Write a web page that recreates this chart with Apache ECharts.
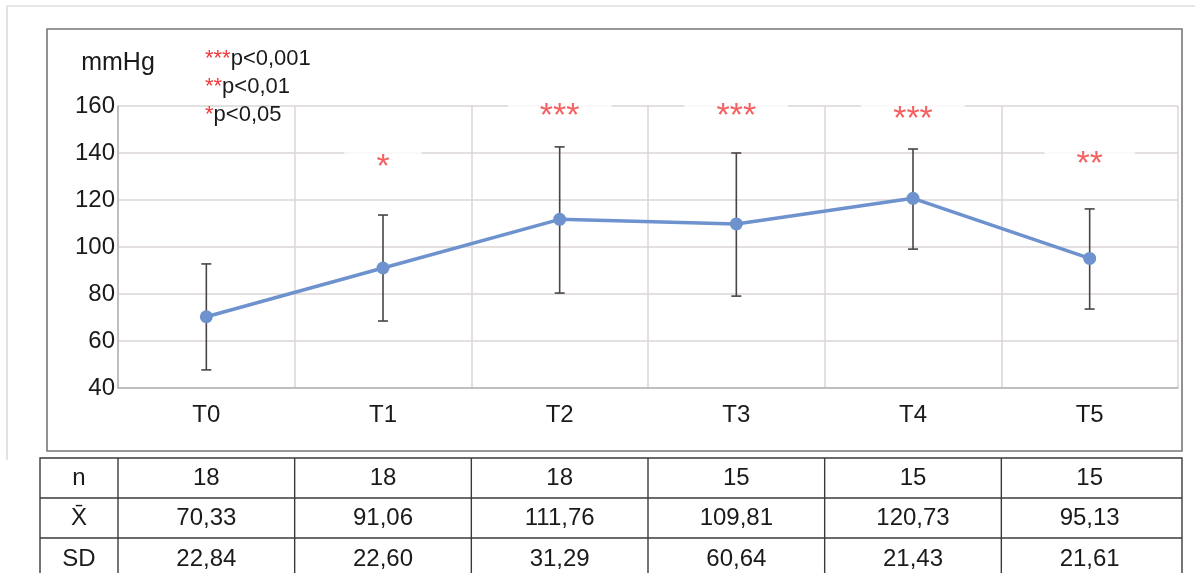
<!DOCTYPE html>
<html>
<head>
<meta charset="utf-8">
<script src="https://cdn.jsdelivr.net/npm/echarts@6/dist/echarts.min.js"></script>
<style>
html,body{margin:0;padding:0;background:#fff;}
#c{width:1195px;height:573px;}
</style>
</head>
<body>
<div id="c"></div>
<script>
// ---- data ----
const categories = ['T0', 'T1', 'T2', 'T3', 'T4', 'T5'];
const means = [70.33, 91.06, 111.76, 109.81, 120.73, 95.13];
const barHigh = [92.8, 113.6, 142.6, 140.0, 141.7, 116.2];
const barLow = [47.7, 68.5, 80.4, 79.1, 99.1, 73.6];
const starLabels = ['', '*', '***', '***', '***', '**'];
const starLevel = [null, 136.6, 158.3, 158.3, 157.0, 137.9];
const yTicks = { min: 40, max: 160, interval: 20 };
const tableRowLabels = ['n', 'X\u0304', 'SD'];
const tableN = ['18', '18', '18', '15', '15', '15'];
const tableMean = ['70,33', '91,06', '111,76', '109,81', '120,73', '95,13'];
const tableSD = ['22,84', '22,60', '31,29', '60,64', '21,43', '21,61'];
const legendItems = [['***', 'p<0,001'], ['**', 'p<0,01'], ['*', 'p<0,05']];

const FONT = 'Liberation Sans, Arial, sans-serif';
const chart = echarts.init(document.getElementById('c'), null, { renderer: 'canvas' });

const errData = categories.map((c, i) => [i, barHigh[i], barLow[i]]);
const starData = categories.map((c, i) => starLevel[i] == null ? null : { value: [i, starLevel[i]], label: { formatter: starLabels[i] } }).filter(Boolean);

const option = {
  animation: false,
  backgroundColor: '#fff',
  grid: { left: 118, top: 106, width: 1060, height: 282, containLabel: false },
  xAxis: {
    type: 'category', data: categories, boundaryGap: true,
    axisLine: { show: true, lineStyle: { color: '#b8b2b2', width: 1.5 } },
    axisTick: { show: false },
    axisLabel: { color: '#1a1a1a', fontSize: 24, fontFamily: FONT, margin: 15 },
    splitLine: { show: true, lineStyle: { color: '#ddd6d6', width: 1.5 } }
  },
  yAxis: {
    type: 'value', min: yTicks.min, max: yTicks.max, interval: yTicks.interval,
    name: 'mmHg', nameLocation: 'end', nameGap: 30,
    nameTextStyle: { color: '#1a1a1a', fontSize: 25, fontFamily: FONT, align: 'center' },
    axisLine: { show: true, lineStyle: { color: '#b8b2b2', width: 1.5 } },
    axisTick: { show: false },
    axisLabel: { color: '#1a1a1a', fontSize: 24, fontFamily: FONT, margin: 3 },
    splitLine: { show: true, lineStyle: { color: '#ddd6d6', width: 1.5 } }
  },
  series: [
    {
      type: 'scatter', data: starData, symbolSize: 1, itemStyle: { color: 'rgba(0,0,0,0)' }, z: 3,
      label: {
        show: true, position: 'inside', color: '#f03a3a', fontSize: 34, fontFamily: FONT,
        backgroundColor: '#fff', padding: [0, 32], height: 34, lineHeight: 34, offset: [0, 7]
      },
      silent: true
    },
    {
      type: 'custom', data: errData, z: 4,
      renderItem: function (params, api) {
        const hi = api.coord([api.value(0), api.value(1)]);
        const lo = api.coord([api.value(0), api.value(2)]);
        const cap = 5;
        const st = { stroke: '#4a4444', lineWidth: 1.6 };
        return {
          type: 'group', children: [
            { type: 'line', shape: { x1: hi[0], y1: hi[1], x2: lo[0], y2: lo[1] }, style: st },
            { type: 'line', shape: { x1: hi[0] - cap, y1: hi[1], x2: hi[0] + cap, y2: hi[1] }, style: st },
            { type: 'line', shape: { x1: lo[0] - cap, y1: lo[1], x2: lo[0] + cap, y2: lo[1] }, style: st }
          ]
        };
      }
    },
    {
      type: 'line', data: means, z: 5,
      symbol: 'circle', symbolSize: 13,
      lineStyle: { color: '#6d92cd', width: 3.5 },
      itemStyle: { color: '#6d92cd' }
    }
  ]
};
chart.setOption(option);

// ---- table & frames (column positions derived from the category axis) ----
const centers = categories.map(c => chart.convertToPixel({ xAxisIndex: 0 }, c));
const band = centers[1] - centers[0];
const colEdges = [40].concat(categories.map((c, i) => centers[i] - band / 2)).concat([centers[centers.length - 1] + band / 2 + 4]);
const tableTop = 458, rowLines = [498, 538], rowText = [478, 518, 559];
const rowsData = [tableN, tableMean, tableSD];
const tRight = colEdges[colEdges.length - 1];
const g = [];
// outer thin frame (top and left)
g.push({ type: 'polyline', shape: { points: [[7, 460], [7, 6], [1195, 6]] }, style: { fill: 'none', stroke: '#cfcfcf', lineWidth: 1.2 }, z: 0 });
g.push({ type: 'rect', shape: { x: 47, y: 29, width: 1135, height: 422 }, style: { fill: 'none', stroke: '#7a7676', lineWidth: 1.6 }, z: 1 });
g.push({ type: 'rect', shape: { x: 40, y: tableTop, width: tRight - 40, height: 140 }, style: { fill: '#fff', stroke: '#3a3a3a', lineWidth: 1.4 }, z: 2 });
rowLines.forEach(y => g.push({ type: 'line', shape: { x1: 40, y1: y, x2: tRight, y2: y }, style: { stroke: '#3a3a3a', lineWidth: 1.4 }, z: 3 }));
for (let c = 1; c < colEdges.length - 1; c++) {
  g.push({ type: 'line', shape: { x1: colEdges[c], y1: tableTop, x2: colEdges[c], y2: 600 }, style: { stroke: '#3a3a3a', lineWidth: 1.4 }, z: 3 });
}
tableRowLabels.forEach((lab, r) => {
  g.push({ type: 'text', x: (colEdges[0] + colEdges[1]) / 2, y: rowText[r], style: { text: lab, fill: '#1a1a1a', font: '24px ' + FONT, align: 'center', verticalAlign: 'middle' }, z: 4 });
  rowsData[r].forEach((v, i) => {
    g.push({ type: 'text', x: centers[i], y: rowText[r], style: { text: v, fill: '#1a1a1a', font: '24px ' + FONT, align: 'center', verticalAlign: 'middle' }, z: 4 });
  });
});
// significance legend
legendItems.forEach((it, k) => {
  g.push({
    type: 'text', x: 205, y: 59 + k * 28,
    style: {
      text: '{s|' + it[0] + '}{t|' + it[1] + '}', verticalAlign: 'middle',
      rich: {
        s: { fill: '#f03a3a', font: '22px ' + FONT },
        t: { fill: '#1a1a1a', font: '22px ' + FONT }
      }
    }, z: 6
  });
});
chart.setOption({ graphic: g });
</script>
</body>
</html>
